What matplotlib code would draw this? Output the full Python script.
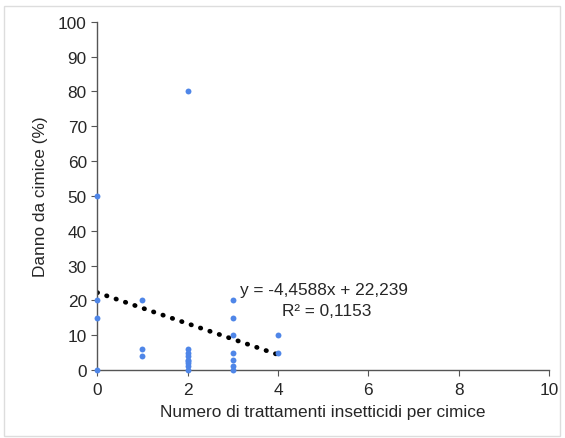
import matplotlib
matplotlib.use("Agg")
import matplotlib.pyplot as plt
import numpy as np

plt.rcParams['font.family'] = ['Liberation Sans', 'DejaVu Sans']

x_vals = [0, 0, 0, 0, 1, 1, 1, 2, 2, 2, 2, 2, 2, 2, 2, 2, 3, 3, 3, 3, 3, 3, 3, 4, 4]
y_vals = [0, 15, 20, 50, 4, 6, 20, 0, 1, 2, 3, 4, 5, 6, 80, 2.5, 0, 1, 3, 5, 10, 15, 20, 5, 10]
slope = -4.4588
intercept = 22.239
r2_text = "R² = 0,1153"
eq_text = "y = -4,4588x + 22,239"
x_ticks = [0, 2, 4, 6, 8, 10]
y_ticks = [0, 10, 20, 30, 40, 50, 60, 70, 80, 90, 100]

fs = 12.4
txt = '#262626'
fig = plt.figure(figsize=(5.65, 4.39), dpi=100)
fig.patch.set_facecolor('white')
ax = fig.add_axes([0.172, 0.155, 0.8, 0.793])

ax.scatter(x_vals, y_vals, s=18, color='#4F86E8', zorder=3, marker='o', linewidths=0, clip_on=False)
xl = np.array([min(x_vals), max(x_vals)])
ax.plot(xl, slope * xl + intercept, linestyle=(0, (0.1, 2.0)), color='black',
        linewidth=3.4, dash_capstyle='round', zorder=2)

ax.text(3.16, 23, eq_text, fontsize=fs, color=txt, va='center', ha='left')
ax.text(5.08, 17, r2_text, fontsize=fs, color=txt, va='center', ha='center')

ax.set_xlim(0, 10)
ax.set_ylim(0, 100)
ax.set_xticks(x_ticks)
ax.set_yticks(y_ticks)
for s in ['top', 'right']:
    ax.spines[s].set_visible(False)
for s in ['left', 'bottom']:
    ax.spines[s].set_color('#555555')
    ax.spines[s].set_linewidth(1.0)
ax.tick_params(axis='both', direction='out', length=4, color='#555555',
               labelsize=fs, labelcolor=txt)
ax.tick_params(axis='x', pad=5)
ax.set_xlabel('Numero di trattamenti insetticidi per cimice', fontsize=fs, color=txt, labelpad=5)
ax.set_ylabel('Danno da cimice (%)', fontsize=fs, color=txt, labelpad=7)

fig.add_artist(plt.Rectangle((0.007, 0.005), 0.985, 0.98, transform=fig.transFigure,
                             fill=False, edgecolor='#dddddd', linewidth=1))

fig.savefig('out.png', dpi=100)
